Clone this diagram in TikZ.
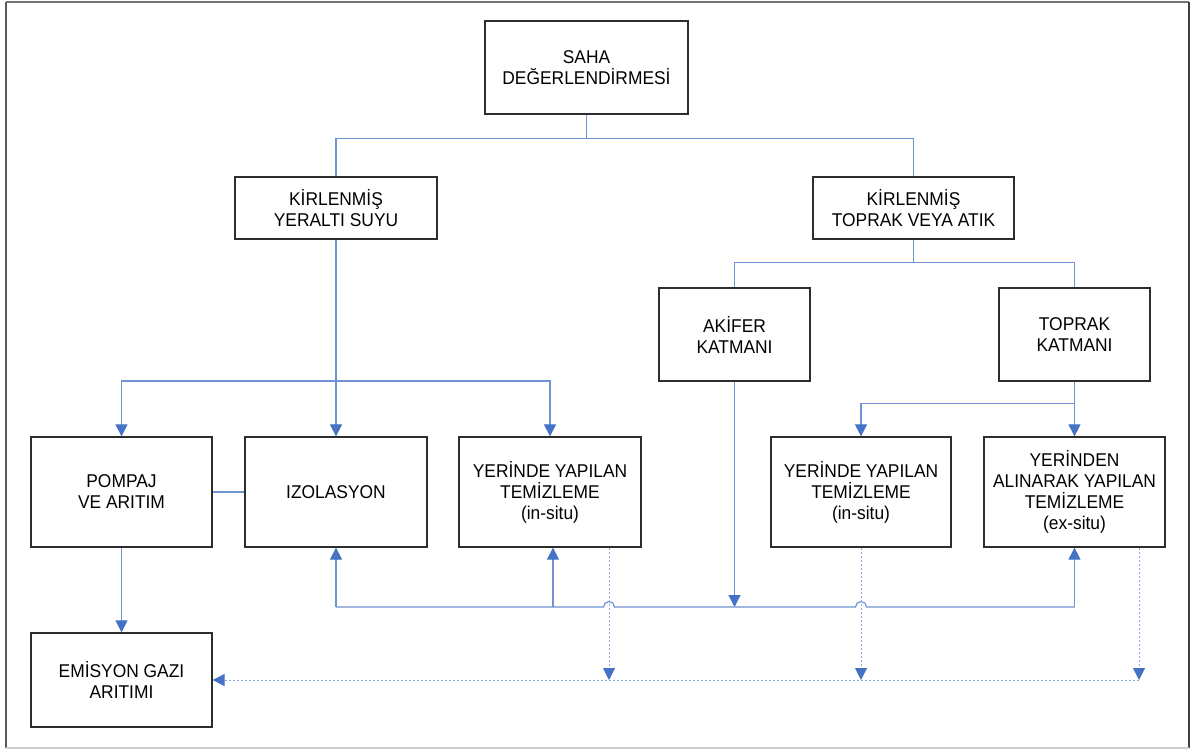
\documentclass[tikz,border=0pt]{standalone}
\usepackage{fontspec}
\setmainfont{Liberation Sans}[FakeStretch=0.94]
\usetikzlibrary{arrows.meta}
\definecolor{lnc}{RGB}{112,147,210}
\definecolor{arc}{RGB}{68,114,196}
\definecolor{dotcol}{RGB}{140,170,222}
\definecolor{boxc}{RGB}{45,45,45}
\tikzset{
 box/.style={draw=boxc, line width=1.3pt, align=center, inner sep=2pt, font=\fontsize{18.5}{21}\selectfont, text=black},
 conn/.style={draw=lnc, line width=1.2pt},
 arr/.style={conn, -{Triangle[width=12pt,length=12pt,color=arc]}},
 dotc/.style={draw=dotcol, line width=1pt, dash pattern=on 2pt off 2pt, -{Triangle[width=12pt,length=12pt,color=arc]}},
}
\begin{document}
\begin{tikzpicture}[x=1pt,y=-1pt]
\useasboundingbox (0,0) rectangle (1190,749);
\fill[white] (0,0) rectangle (1190,749);
% frame
\draw[black!65, line width=1.6pt] (6,2) -- (6,748);
\draw[black!55, line width=1.2pt] (6,2) -- (1189,2);
\draw[black!75, line width=1.6pt] (1189,2) -- (1189,748);
\draw[black!20, line width=1.2pt] (6,748) -- (1189,748);
% nodes
\node[box, minimum width=203pt, minimum height=93pt] (saha) at (586.5,67.5) {SAHA\\DEĞERLENDİRMESİ};
\node[box, minimum width=202pt, minimum height=62pt] (ysu) at (336,208) {KİRLENMİŞ\\YERALTI SUYU};
\node[box, minimum width=201pt, minimum height=62pt] (tva) at (913.5,208) {KİRLENMİŞ\\TOPRAK VEYA ATIK};
\node[box, minimum width=151pt, minimum height=93pt] (akifer) at (734.5,334.5) {AKİFER\\KATMANI};
\node[box, minimum width=151pt, minimum height=93pt] (toprak) at (1074.5,334.5) {TOPRAK\\KATMANI};
\node[box, minimum width=181pt, minimum height=110pt] (pompaj) at (121.5,492) {POMPAJ\\VE ARITIM};
\node[box, minimum width=182pt, minimum height=110pt] (izol) at (336,492) {IZOLASYON};
\node[box, minimum width=182pt, minimum height=110pt] (yer1) at (550,492) {YERİNDE YAPILAN\\TEMİZLEME\\(in-situ)};
\node[box, minimum width=180pt, minimum height=110pt] (yer2) at (861,492) {YERİNDE YAPILAN\\TEMİZLEME\\(in-situ)};
\node[box, minimum width=181pt, minimum height=110pt] (yerex) at (1074.5,492) {YERİNDEN\\ALINARAK YAPILAN\\TEMİZLEME\\(ex-situ)};
\node[box, minimum width=181pt, minimum height=94pt] (emis) at (121.5,680) {EMİSYON GAZI\\ARITIMI};
% helper coordinates
\coordinate (h1) at (336,381);
\coordinate (bl) at (0,607);
\coordinate (u1) at (553,607);
\coordinate (d1) at (609,680);
\coordinate (d2) at (861,680);
\coordinate (d3) at (1139,680);
% top tree
\draw[conn] (saha.south) -- ++(0,24) coordinate (j1);
\draw[conn] (ysu.north) |- (j1) -| (tva.north);
\draw[conn] (tva.south) -- ++(0,23) coordinate (j2);
\draw[conn] (akifer.north) |- (j2) -| (toprak.north);
% left branch
\draw[arr] (ysu.south) -- (izol.north);
\draw[arr] (h1) -| (pompaj.north);
\draw[arr] (h1) -| (yer1.north);
\draw[conn] (pompaj.east) -- (izol.west);
\draw[arr] (pompaj.south) -- (emis.north);
% right branch
\draw[conn] (toprak.south) -- ++(0,22) coordinate (j3);
\draw[arr] (j3) -| (yer2.north);
\draw[arr] (j3) -- (yerex.north);
\draw[arr] (akifer.south) -- (akifer.south |- bl);
% bottom line with hop-overs
\draw[conn] (izol.south |- bl) -- (603.5,607) arc[start angle=180, end angle=0, radius=5.5pt]
  -- (855.5,607) arc[start angle=180, end angle=0, radius=5.5pt] -- (yerex.south |- bl);
\draw[arr] (izol.south |- bl) -- (izol.south);
\draw[arr] (u1) -- (u1 |- yer1.south);
\draw[arr] (yerex.south |- bl) -- (yerex.south);
% dotted emission lines
\draw[dotc] (d1 |- yer1.south) -- (d1);
\draw[dotc] (d2 |- yer2.south) -- (d2);
\draw[dotc] (d3 |- yerex.south) -- (d3);
\draw[dotc] (d3) -- (emis.east |- d3);
\end{tikzpicture}
\end{document}
